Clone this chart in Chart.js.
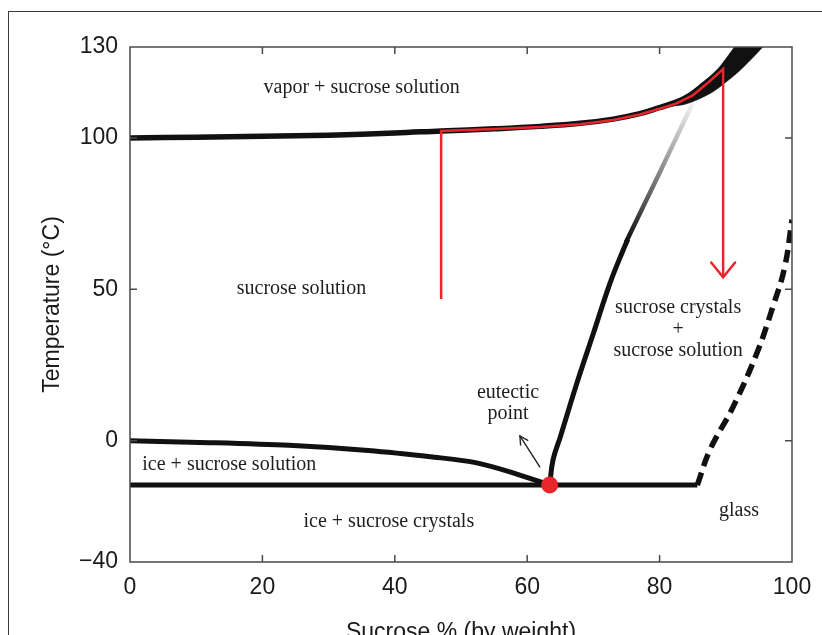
<!DOCTYPE html>
<html><head><meta charset="utf-8">
<style>
html,body{margin:0;padding:0;width:822px;height:635px;overflow:hidden;background:#fff;}
#frame{position:absolute;left:8px;top:11px;width:900px;height:700px;border-left:1.5px solid #3a3a3a;border-top:1.5px solid #3a3a3a;}
canvas{position:absolute;left:0;top:0;}
</style>
<script src="https://cdn.jsdelivr.net/npm/chart.js@4"></script>
</head><body>
<div id="frame"></div>
<canvas id="c" width="822" height="648"></canvas>
<script>
// ---- data ----
const xTicks = [0, 20, 40, 60, 80, 100];
const yTicks = [-40, 0, 50, 100, 130];
const innerXTicks = [20, 40, 60, 80];
const innerYTicks = [0, 50, 100];

// boiling (vapor) curve
const boilX = [0, 10, 20, 30, 40, 47, 55, 62, 68, 73, 77, 80, 82.5, 84.5, 86.5, 89.6, 92, 93.2];
const boilY = [100, 100.2, 100.5, 100.9, 101.6, 102.3, 103, 103.8, 104.8, 106.2, 108, 110, 111.8, 114, 117.3, 123, 129, 132];
// widening band at the top of the boiling curve (closed shape)
const bandX = [80, 82.5, 85, 88.8, 91.4, 92.2, 96.4, 95.6, 92.1, 87.9, 84, 80];
const bandY = [110, 112, 115.2, 122.8, 130.3, 132.5, 132.5, 130, 122.2, 115, 111.2, 110];

// freezing curve
const freezeX = [0, 12, 24, 36, 46, 52, 57.5, 63.4];
const freezeY = [0, -0.6, -1.5, -3.2, -5.4, -7.1, -10.3, -14.6];

// eutectic line
const eutX = [0, 85.7];
const eutY = [-14.6, -14.6];

// solubility curve (solid part)
const solX = [63.4, 63.9, 65, 67.5, 70, 72.5, 74.5, 75.2];
const solY = [-14.6, -6.3, 1.3, 19, 35.5, 52, 63, 66.5];
// solubility curve (fading part)
const solFadeX = [74.9, 80, 85];
const solFadeY = [65.5, 88.5, 111.5];

// glass transition (dashed)
const glassX = [85.7, 87.6, 91.1, 94.7, 97.1, 98.9, 100];
const glassY = [-14.6, -3, 11.2, 29, 44.2, 57.4, 73];

// red process path
const redX = [47, 47, 55, 62, 68, 73, 77, 80, 82.5, 85, 87.3, 89.6, 89.6];
const redY = [46.8, 102.3, 102.9, 103.6, 104.5, 105.9, 107.7, 109.6, 111.3, 114, 118.2, 122.7, 54];

// eutectic point
const eutPointX = [63.4];
const eutPointY = [-14.6];

// small annotation arrow (from -> to)
const smallArrowX = [61.9, 58.9];
const smallArrowY = [-8.6, 1.6];

// region labels
const labelTexts = ['vapor + sucrose solution', 'sucrose solution', 'sucrose crystals', '+', 'sucrose solution',
  'eutectic', 'point', 'ice + sucrose solution', 'ice + sucrose crystals', 'glass'];
const labelX = [35, 25.9, 82.8, 82.8, 82.8, 57.1, 57.1, 15, 39.1, 92];
const labelY = [116.4, 50.1, 43.8, 36.6, 29.6, 15.8, 8.8, -8, -26.8, -23.2];

// ---- helpers ----
const pts = (xs, ys) => xs.map((x, i) => ({x: x, y: ys[i]}));
const RED = '#e8262c';
const INK = '#111';

function arrowHead(ctx, fx, fy, tx, ty, len, ang) {
  const a = Math.atan2(ty - fy, tx - fx);
  ctx.beginPath();
  ctx.moveTo(tx - len * Math.cos(a - ang), ty - len * Math.sin(a - ang));
  ctx.lineTo(tx, ty);
  ctx.lineTo(tx - len * Math.cos(a + ang), ty - len * Math.sin(a + ang));
  ctx.stroke();
}

const decor = {
  id: 'decor',
  afterDatasetsDraw(chart) {
    const {ctx, chartArea: a, scales: {x, y}} = chart;
    ctx.save();
    ctx.strokeStyle = '#4a4a4a';
    ctx.lineWidth = 1.5;
    ctx.strokeRect(a.left, a.top, a.right - a.left, a.bottom - a.top);
    ctx.beginPath();
    innerXTicks.forEach(v => {
      const p = x.getPixelForValue(v);
      ctx.moveTo(p, a.bottom); ctx.lineTo(p, a.bottom - 7);
      ctx.moveTo(p, a.top); ctx.lineTo(p, a.top + 7);
    });
    innerYTicks.forEach(v => {
      const p = y.getPixelForValue(v);
      ctx.moveTo(a.left, p); ctx.lineTo(a.left + 7, p);
      ctx.moveTo(a.right, p); ctx.lineTo(a.right - 7, p);
    });
    ctx.stroke();

    const n = redX.length;
    ctx.strokeStyle = RED;
    ctx.lineWidth = 2.5;
    ctx.lineCap = 'round';
    arrowHead(ctx, x.getPixelForValue(redX[n - 2]), y.getPixelForValue(redY[n - 2]),
      x.getPixelForValue(redX[n - 1]), y.getPixelForValue(redY[n - 1]), 19, 0.68);

    const fx = x.getPixelForValue(smallArrowX[0]), fy = y.getPixelForValue(smallArrowY[0]);
    const tx = x.getPixelForValue(smallArrowX[1]), ty = y.getPixelForValue(smallArrowY[1]);
    ctx.strokeStyle = '#222';
    ctx.lineWidth = 1.4;
    ctx.beginPath(); ctx.moveTo(fx, fy); ctx.lineTo(tx, ty); ctx.stroke();
    arrowHead(ctx, fx, fy, tx, ty, 9, 0.5);

    ctx.fillStyle = '#1e1e1e';
    ctx.font = '20px "Liberation Serif", "Times New Roman", serif';
    ctx.textAlign = 'center';
    ctx.textBaseline = 'middle';
    labelTexts.forEach((t, i) => {
      ctx.fillText(t, x.getPixelForValue(labelX[i]), y.getPixelForValue(labelY[i]));
    });
    ctx.restore();
  }
};

const fadeColor = (c) => {
  const chart = c.chart;
  if (!chart.chartArea) return '#000';
  const ys = chart.scales.y;
  const g = chart.ctx.createLinearGradient(0, ys.getPixelForValue(63), 0, ys.getPixelForValue(112));
  g.addColorStop(0, '#000');
  g.addColorStop(0.45, '#777');
  g.addColorStop(1, '#f4f4f4');
  return g;
};

const tickFont = {family: '"Liberation Sans", Arial, sans-serif', size: 23};

new Chart(document.getElementById('c'), {
  type: 'scatter',
  data: {
    datasets: [
      {data: pts(eutPointX, eutPointY), pointRadius: 8.5, pointBackgroundColor: RED, pointBorderWidth: 0, showLine: false, order: 0},
      {data: pts(redX, redY), showLine: true, borderColor: RED, borderWidth: 2.5, pointRadius: 0, tension: 0, order: 1},
      {data: pts(boilX, boilY), showLine: true, borderColor: INK, borderWidth: 5.5, pointRadius: 0, tension: 0.4, order: 3},
      {data: pts(bandX, bandY), showLine: true, borderColor: INK, borderWidth: 0.5, backgroundColor: INK, fill: 'shape', pointRadius: 0, tension: 0.25, order: 4},
      {data: pts(freezeX, freezeY), showLine: true, borderColor: INK, borderWidth: 5, pointRadius: 0, tension: 0.3, order: 5},
      {data: pts(eutX, eutY), showLine: true, borderColor: INK, borderWidth: 5, pointRadius: 0, order: 5},
      {data: pts(solX, solY), showLine: true, borderColor: INK, borderWidth: 5, pointRadius: 0, tension: 0.4, order: 5},
      {data: pts(solFadeX, solFadeY), showLine: true, borderColor: fadeColor, borderWidth: 4.5, pointRadius: 0, tension: 0.2, order: 6},
      {data: pts(glassX, glassY), showLine: true, borderColor: INK, borderWidth: 5.5, borderDash: [13, 7], pointRadius: 0, tension: 0.4, order: 5}
    ]
  },
  options: {
    responsive: false,
    animation: false,
    layout: {padding: {left: 0, top: 47, right: 30, bottom: 0}},
    plugins: {legend: {display: false}, tooltip: {enabled: false}},
    scales: {
      x: {
        type: 'linear', position: 'bottom', min: 0, max: 100,
        afterBuildTicks(s) { s.ticks = xTicks.map(v => ({value: v})); },
        afterFit(s) { s.height = 86; },
        grid: {display: false}, border: {display: false},
        ticks: {padding: 4, color: '#1a1a1a', font: tickFont, maxRotation: 0, autoSkip: false},
        title: {display: true, text: 'Sucrose % (by weight)', color: '#1a1a1a', font: tickFont, padding: {top: 0, bottom: 2}}
      },
      y: {
        type: 'linear', position: 'left', min: -40, max: 130,
        afterBuildTicks(s) { s.ticks = yTicks.map(v => ({value: v})); },
        afterFit(s) { s.width = 130; },
        grid: {display: false}, border: {display: false},
        ticks: {padding: 4, color: '#1a1a1a', font: tickFont, autoSkip: false,
          callback: v => String(v).replace('-', '\u2212')},
        title: {display: true, text: 'Temperature (°C)', color: '#1a1a1a', font: tickFont, padding: {top: 39, bottom: 0}}
      }
    }
  },
  plugins: [decor]
});
</script></body></html>
